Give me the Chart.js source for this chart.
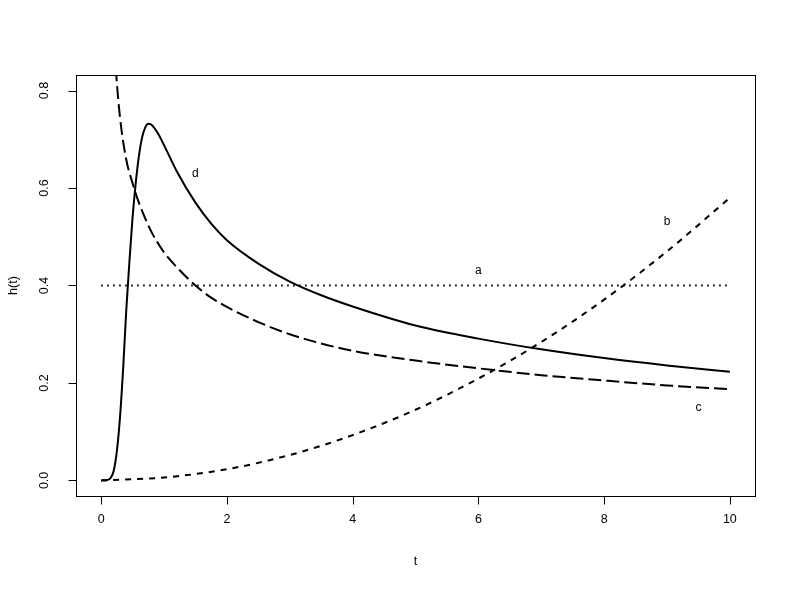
<!DOCTYPE html>
<html>
<head>
<meta charset="utf-8">
<script src="https://cdn.jsdelivr.net/npm/chart.js@4/dist/chart.umd.min.js"></script>
<style>
  html, body { margin: 0; padding: 0; background: #ffffff; }
  #wrap { width: 793px; height: 591px; }
</style>
</head>
<body>
<div id="wrap"><canvas id="c" width="793" height="591"></canvas></div>
<script>
// ---- data ----
const xTicks = [0, 2, 4, 6, 8, 10];
const xTickLabels = ["0", "2", "4", "6", "8", "10"];
const yTicks = [0, 0.2, 0.4, 0.6, 0.8];
const yTickLabels = ["0.0", "0.2", "0.4", "0.6", "0.8"];
const xTitle = "t";
const yTitle = "h(t)";

// a: constant hazard (dotted)
const tA = [0, 10];
const hA = [0.4, 0.4];

// b: increasing hazard (short dashes)
const tB = [0, 1, 2, 3, 4, 5, 6, 7, 8, 9, 10];
const hB = [0, 0.006, 0.023, 0.052, 0.093, 0.145, 0.209, 0.284, 0.371, 0.470, 0.580];

// c: decreasing hazard (long dashes)
const tC = [0.2, 0.24, 0.3, 0.4, 0.5, 0.6, 0.7, 0.8, 1.0, 1.2, 1.5, 1.75, 2.0, 2.5, 3.0, 3.5, 4.0, 5.0, 6.0, 7.0, 8.0, 9.0, 10];
const hC = [0.92, 0.833, 0.745, 0.658, 0.61, 0.57, 0.538, 0.51, 0.468, 0.438, 0.40, 0.375, 0.356, 0.325, 0.30, 0.281, 0.266, 0.246, 0.23, 0.216, 0.205, 0.195, 0.187];

// d: hump-shaped hazard (solid)
const tD = [0, 0.1, 0.15, 0.2, 0.25, 0.3, 0.35, 0.4, 0.45, 0.5, 0.55, 0.6, 0.65, 0.7, 0.75, 0.8, 0.9, 1.0, 1.2, 1.5, 1.75, 2.0, 2.5, 3.0, 3.5, 4.0, 5.0, 6.0, 7.0, 8.0, 9.0, 10];
const hD = [0, 0.001, 0.005, 0.02, 0.06, 0.13, 0.23, 0.35, 0.45, 0.54, 0.61, 0.665, 0.703, 0.724, 0.732, 0.73, 0.713, 0.688, 0.635, 0.57, 0.527, 0.493, 0.445, 0.408, 0.38, 0.357, 0.318, 0.291, 0.269, 0.251, 0.236, 0.223];

// curve labels
const labelText = ["a", "b", "c", "d"];
const labelT = [6.0, 9.0, 9.5, 1.5];
const labelH = [0.43, 0.53, 0.15, 0.63];

// ---- build ----
const pts = (ts, hs) => ts.map((t, i) => ({ x: t, y: hs[i] }));
const FONT = '"Liberation Sans", Arial, Helvetica, sans-serif';

const rStyle = {
  id: 'rStyle',
  beforeDraw(chart) {
    const ctx = chart.ctx;
    ctx.save();
    ctx.fillStyle = '#ffffff';
    ctx.fillRect(0, 0, chart.width, chart.height);
    ctx.restore();
  },
  afterDraw(chart) {
    const ctx = chart.ctx;
    const a = chart.chartArea;
    const xs = chart.scales.x, ys = chart.scales.y;
    ctx.save();
    ctx.strokeStyle = '#000000';
    ctx.fillStyle = '#000000';
    ctx.lineWidth = 1;
    // box
    ctx.strokeRect(Math.round(a.left) + 0.5, Math.round(a.top) + 0.5,
                   Math.round(a.right - a.left), Math.round(a.bottom - a.top));
    const tick = 8;
    // x axis
    ctx.font = '12.5px ' + FONT;
    ctx.textAlign = 'center';
    ctx.textBaseline = 'middle';
    const yb = Math.round(a.bottom) + 0.5;
    ctx.beginPath();
    ctx.moveTo(Math.round(xs.getPixelForValue(xTicks[0])) + 0.5, yb);
    ctx.lineTo(Math.round(xs.getPixelForValue(xTicks[xTicks.length - 1])) + 0.5, yb);
    xTicks.forEach(v => {
      const px = Math.round(xs.getPixelForValue(v)) + 0.5;
      ctx.moveTo(px, yb);
      ctx.lineTo(px, yb + tick);
    });
    ctx.stroke();
    xTicks.forEach((v, i) => {
      ctx.fillText(xTickLabels[i], xs.getPixelForValue(v), a.bottom + 24);
    });
    // y axis
    const xl = Math.round(a.left) + 0.5;
    ctx.beginPath();
    ctx.moveTo(xl, Math.round(ys.getPixelForValue(yTicks[0])) + 0.5);
    ctx.lineTo(xl, Math.round(ys.getPixelForValue(yTicks[yTicks.length - 1])) + 0.5);
    yTicks.forEach(v => {
      const py = Math.round(ys.getPixelForValue(v)) + 0.5;
      ctx.moveTo(xl, py);
      ctx.lineTo(xl - tick, py);
    });
    ctx.stroke();
    yTicks.forEach((v, i) => {
      ctx.save();
      ctx.translate(a.left - 31, ys.getPixelForValue(v));
      ctx.rotate(-Math.PI / 2);
      ctx.fillText(yTickLabels[i], 0, 0);
      ctx.restore();
    });
    // titles
    ctx.fillText(xTitle, (a.left + a.right) / 2, a.bottom + 66);
    ctx.save();
    ctx.translate(a.left - 62, (a.top + a.bottom) / 2);
    ctx.rotate(-Math.PI / 2);
    ctx.fillText(yTitle, 0, 0);
    ctx.restore();
    // curve labels
    ctx.font = '12px ' + FONT;
    labelText.forEach((s, i) => {
      ctx.fillText(s, xs.getPixelForValue(labelT[i]), ys.getPixelForValue(labelH[i]));
    });
    ctx.restore();
  }
};

const common = {
  borderColor: '#000000',
  backgroundColor: '#000000',
  borderWidth: 2,
  pointRadius: 0,
  pointHoverRadius: 0,
  showLine: true,
  fill: false,
  cubicInterpolationMode: 'monotone',
  borderCapStyle: 'butt'
};

new Chart(document.getElementById('c'), {
  type: 'scatter',
  data: {
    datasets: [
      Object.assign({}, common, { label: 'a', data: pts(tA, hA), borderDash: [1.6, 4.4], borderWidth: 2 }),
      Object.assign({}, common, { label: 'b', data: pts(tB, hB), borderDash: [6, 6] }),
      Object.assign({}, common, { label: 'c', data: pts(tC, hC), borderDash: [13, 5] }),
      Object.assign({}, common, { label: 'd', data: pts(tD, hD) })
    ]
  },
  options: {
    responsive: false,
    animation: false,
    events: [],
    layout: { padding: { left: 76, right: 38, top: 75, bottom: 95 } },
    plugins: { legend: { display: false }, tooltip: { enabled: false }, title: { display: false } },
    scales: {
      x: { type: 'linear', min: -0.4, max: 10.4, display: false },
      y: { type: 'linear', min: -0.032, max: 0.832, display: false }
    }
  },
  plugins: [rStyle]
});
</script>
</body>
</html>
